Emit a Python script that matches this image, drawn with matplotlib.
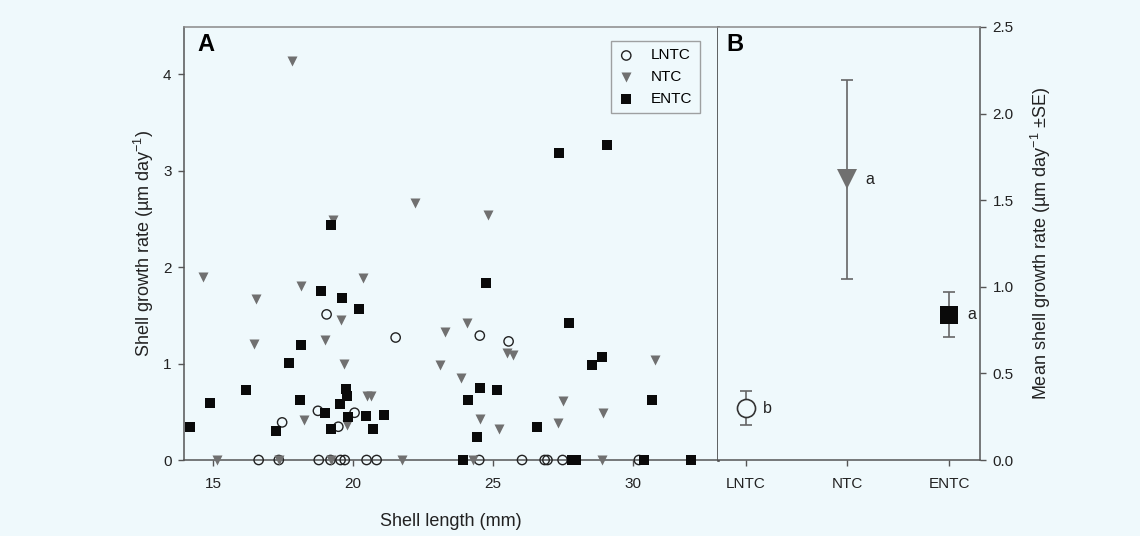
import matplotlib
matplotlib.use("Agg")
import matplotlib.pyplot as plt

# Panel A: shell length (mm) vs shell growth rate (um/day)
lntc_len = [19.05, 21.52, 24.53, 25.56, 17.46, 18.74, 20.05, 19.47,
            16.62, 17.34, 18.77, 19.19, 19.55, 19.70, 20.48, 20.84,
            24.51, 26.04, 26.85, 26.95, 27.49, 30.22]
lntc_rate = [1.51, 1.27, 1.29, 1.23, 0.39, 0.51, 0.49, 0.345,
             0, 0, 0, 0, 0, 0, 0, 0,
             0, 0, 0, 0, 0, 0]

ntc_len = [17.82, 22.20, 24.81, 19.29, 14.63, 20.36, 18.14, 16.54, 19.56,
           23.29, 24.09, 19.00, 16.44, 25.52, 25.70, 30.78, 19.67, 23.09,
           23.85, 20.49, 20.65, 27.52, 28.93, 24.53, 18.24, 27.32, 19.78,
           25.20,
           15.13, 17.34, 19.19, 21.74, 24.27, 28.89]
ntc_rate = [4.14, 2.67, 2.54, 2.49, 1.90, 1.89, 1.80, 1.67, 1.45,
            1.33, 1.42, 1.24, 1.20, 1.11, 1.09, 1.04, 1.00, 0.99,
            0.85, 0.66, 0.66, 0.61, 0.49, 0.42, 0.41, 0.38, 0.36,
            0.32,
            0, 0, 0, 0, 0, 0]

entc_len = [27.35, 29.07, 19.22, 24.75, 18.86, 19.61, 20.21, 27.73, 18.12,
            28.91, 17.72, 28.55, 24.55, 19.73, 16.17, 25.13, 19.77, 18.10,
            24.12, 30.69, 14.87, 19.53, 18.98, 21.10, 19.82, 20.45, 14.18,
            26.58, 19.19, 20.72, 17.24, 24.43,
            23.93, 27.83, 27.97, 30.39, 32.10]
entc_rate = [3.18, 3.27, 2.44, 1.84, 1.75, 1.68, 1.57, 1.42, 1.19,
             1.07, 1.01, 0.985, 0.75, 0.74, 0.725, 0.725, 0.66, 0.62,
             0.62, 0.62, 0.59, 0.58, 0.49, 0.47, 0.45, 0.46, 0.34,
             0.34, 0.32, 0.32, 0.30, 0.235,
             0, 0, 0, 0, 0]

# Panel B: mean growth rate +- SE per treatment
groups = ["LNTC", "NTC", "ENTC"]
means = [0.30, 1.62, 0.84]
ses = [0.10, 0.575, 0.13]
letters = ["b", "a", "a"]

bg = "#eff9fc"
grey = "#707070"
plt.rcParams["font.family"] = "Liberation Sans"
plt.rcParams["mathtext.fontset"] = "custom"
plt.rcParams["mathtext.rm"] = "Liberation Sans"
plt.rcParams["mathtext.it"] = "Liberation Sans:italic"

fig = plt.figure(figsize=(11.4, 5.36), dpi=100, facecolor=bg)
axA = fig.add_axes([184 / 1140, 76 / 536, 534 / 1140, 433 / 536])
axB = fig.add_axes([718 / 1140, 76 / 536, 262 / 1140, 433 / 536])

for ax in (axA, axB):
    ax.set_facecolor(bg)
    for s in ax.spines.values():
        s.set_color("#555555")
        s.set_linewidth(1.1)
    ax.spines["top"].set_color("#8a8a8a")
    ax.tick_params(colors="#555555", labelcolor="#222222", labelsize=11,
                   length=4, width=1, direction="out", pad=5)
    ax.tick_params(axis="x", pad=8)

# --- A ---
axA.scatter(lntc_len, lntc_rate, s=45, marker="o", facecolors="none",
            edgecolors="#222222", linewidths=1.0, zorder=3, label="LNTC",
            clip_on=False)
axA.scatter(ntc_len, ntc_rate, s=52, marker="v", color=grey,
            linewidths=0, zorder=4, label="NTC", clip_on=False)
axA.scatter(entc_len, entc_rate, s=60, marker="s", color="#0a0a0a",
            linewidths=0, zorder=5, label="ENTC", clip_on=False)
axA.set_xlim(13.95, 33.05)
axA.set_ylim(0, 4.49)
axA.set_xticks([15, 20, 25, 30])
axA.set_yticks([0, 1, 2, 3, 4])
axA.spines["right"].set_color("#333333")
axA.spines["right"].set_linewidth(1.8)
axA.tick_params(right=False, top=False)
axA.set_xlabel("Shell length (mm)", fontsize=13, labelpad=16, color="#222222")
axA.set_ylabel("Shell growth rate (µm day$^{-1}$)", fontsize=13,
               labelpad=5, color="#222222")
axA.text(0.025, 0.985, "A", transform=axA.transAxes, fontsize=17,
         fontweight="bold", ha="left", va="top")
leg = axA.legend(loc="upper right", bbox_to_anchor=(0.966, 0.968),
                 borderaxespad=0, fontsize=11, frameon=True, fancybox=False,
                 handlelength=1.0, handletextpad=1.1, labelspacing=0.5,
                 borderpad=0.5, scatterpoints=1)
leg.get_frame().set_edgecolor("#8a8a8a")
leg.get_frame().set_facecolor(bg)
leg.get_frame().set_linewidth(1.0)

# --- B ---
xpos = [1, 2, 3]
styles = [dict(marker="o", ms=13, mfc=bg, mec="#333333", mew=1.2),
          dict(marker="v", ms=15, mfc=grey, mec=grey, mew=0),
          dict(marker="s", ms=12.5, mfc="#0a0a0a", mec="#0a0a0a", mew=0)]
for x, m, e, st, lt in zip(xpos, means, ses, styles, letters):
    axB.errorbar(x, m, yerr=e, fmt="none", ecolor="#666666", elinewidth=1.2,
                 capsize=4.5, capthick=1.2, zorder=2)
    axB.plot(x, m, linestyle="none", zorder=3, **st)
    axB.annotate(lt, (x, m), xytext=(16, 0), textcoords="offset points",
                 fontsize=11.5, ha="center", va="center", color="#222222")
axB.set_xlim(0.73, 3.3)
axB.set_ylim(0, 2.5)
axB.set_xticks(xpos)
axB.set_xticklabels(groups)
axB.set_yticks([0, 0.5, 1.0, 1.5, 2.0, 2.5])
axB.set_yticklabels(["%.1f" % v for v in [0, 0.5, 1.0, 1.5, 2.0, 2.5]])
axB.yaxis.tick_right()
axB.yaxis.set_label_position("right")
axB.spines["left"].set_visible(False)
axB.set_ylabel("Mean shell growth rate (µm day$^{-1}$ ±SE)", fontsize=13,
               labelpad=11, color="#222222")
axB.text(0.033, 0.985, "B", transform=axB.transAxes, fontsize=17,
         fontweight="bold", ha="left", va="top")

fig.savefig("out.png", dpi=100, facecolor=bg)
